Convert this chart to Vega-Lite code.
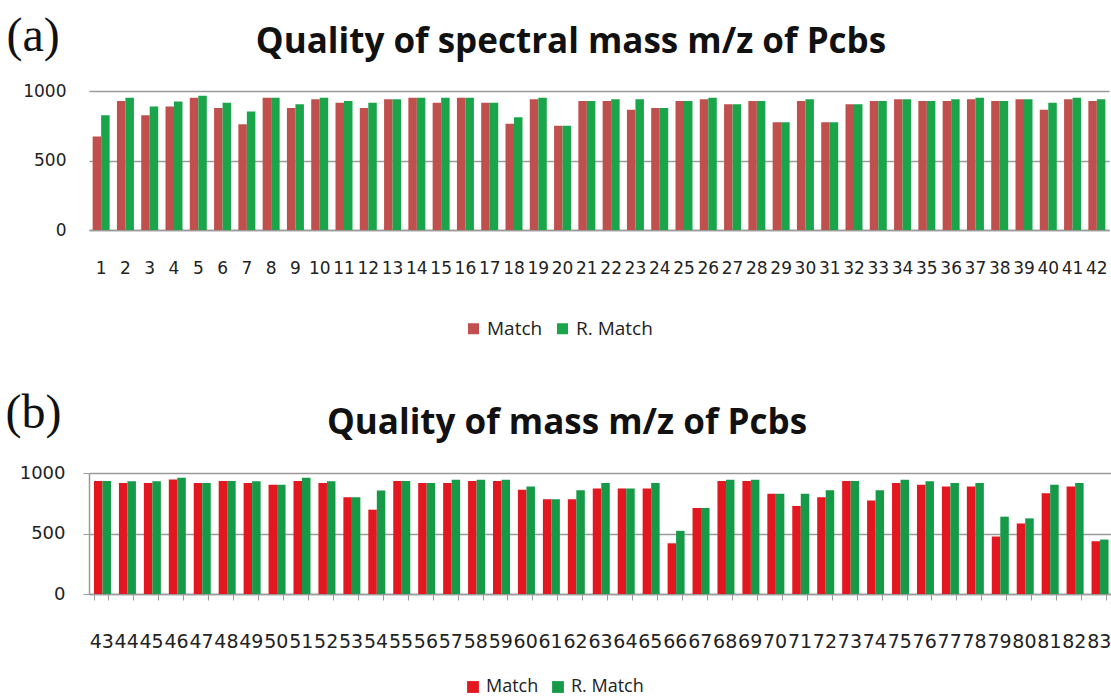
{
  "$schema": "https://vega.github.io/schema/vega-lite/v6.json",
  "padding": {"left": 5, "top": 12, "right": 0, "bottom": 0},
  "background": "white",
  "spacing": 50,
  "datasets": {
    "a": [
      {"n": 1, "Match": 673, "RM": 825},
      {"n": 2, "Match": 928, "RM": 952},
      {"n": 3, "Match": 825, "RM": 889},
      {"n": 4, "Match": 889, "RM": 925},
      {"n": 5, "Match": 952, "RM": 966},
      {"n": 6, "Match": 877, "RM": 916},
      {"n": 7, "Match": 760, "RM": 853},
      {"n": 8, "Match": 952, "RM": 952},
      {"n": 9, "Match": 877, "RM": 904},
      {"n": 10, "Match": 940, "RM": 952},
      {"n": 11, "Match": 916, "RM": 928},
      {"n": 12, "Match": 877, "RM": 916},
      {"n": 13, "Match": 940, "RM": 940},
      {"n": 14, "Match": 952, "RM": 952},
      {"n": 15, "Match": 916, "RM": 952},
      {"n": 16, "Match": 952, "RM": 952},
      {"n": 17, "Match": 916, "RM": 916},
      {"n": 18, "Match": 764, "RM": 812},
      {"n": 19, "Match": 940, "RM": 952},
      {"n": 20, "Match": 750, "RM": 750},
      {"n": 21, "Match": 928, "RM": 928},
      {"n": 22, "Match": 928, "RM": 940},
      {"n": 23, "Match": 865, "RM": 940},
      {"n": 24, "Match": 877, "RM": 877},
      {"n": 25, "Match": 928, "RM": 928},
      {"n": 26, "Match": 940, "RM": 952},
      {"n": 27, "Match": 904, "RM": 904},
      {"n": 28, "Match": 928, "RM": 928},
      {"n": 29, "Match": 776, "RM": 776},
      {"n": 30, "Match": 928, "RM": 940},
      {"n": 31, "Match": 776, "RM": 776},
      {"n": 32, "Match": 904, "RM": 904},
      {"n": 33, "Match": 928, "RM": 928},
      {"n": 34, "Match": 940, "RM": 940},
      {"n": 35, "Match": 928, "RM": 928},
      {"n": 36, "Match": 928, "RM": 940},
      {"n": 37, "Match": 940, "RM": 952},
      {"n": 38, "Match": 928, "RM": 928},
      {"n": 39, "Match": 940, "RM": 940},
      {"n": 40, "Match": 865, "RM": 916},
      {"n": 41, "Match": 940, "RM": 952},
      {"n": 42, "Match": 928, "RM": 940}
    ],
    "b": [
      {"n": 43, "Match": 933, "RM": 933},
      {"n": 44, "Match": 917, "RM": 931},
      {"n": 45, "Match": 917, "RM": 931},
      {"n": 46, "Match": 947, "RM": 961},
      {"n": 47, "Match": 917, "RM": 917},
      {"n": 48, "Match": 933, "RM": 933},
      {"n": 49, "Match": 917, "RM": 931},
      {"n": 50, "Match": 903, "RM": 903},
      {"n": 51, "Match": 933, "RM": 961},
      {"n": 52, "Match": 917, "RM": 931},
      {"n": 53, "Match": 800, "RM": 800},
      {"n": 54, "Match": 697, "RM": 856},
      {"n": 55, "Match": 933, "RM": 933},
      {"n": 56, "Match": 917, "RM": 917},
      {"n": 57, "Match": 917, "RM": 944},
      {"n": 58, "Match": 933, "RM": 944},
      {"n": 59, "Match": 933, "RM": 944},
      {"n": 60, "Match": 861, "RM": 889},
      {"n": 61, "Match": 783, "RM": 783},
      {"n": 62, "Match": 783, "RM": 858},
      {"n": 63, "Match": 872, "RM": 917},
      {"n": 64, "Match": 872, "RM": 872},
      {"n": 65, "Match": 872, "RM": 917},
      {"n": 66, "Match": 419, "RM": 522},
      {"n": 67, "Match": 711, "RM": 711},
      {"n": 68, "Match": 933, "RM": 944},
      {"n": 69, "Match": 933, "RM": 944},
      {"n": 70, "Match": 828, "RM": 828},
      {"n": 71, "Match": 728, "RM": 828},
      {"n": 72, "Match": 800, "RM": 858},
      {"n": 73, "Match": 933, "RM": 933},
      {"n": 74, "Match": 772, "RM": 858},
      {"n": 75, "Match": 917, "RM": 944},
      {"n": 76, "Match": 903, "RM": 931},
      {"n": 77, "Match": 889, "RM": 917},
      {"n": 78, "Match": 889, "RM": 917},
      {"n": 79, "Match": 475, "RM": 639},
      {"n": 80, "Match": 583, "RM": 625},
      {"n": 81, "Match": 833, "RM": 903},
      {"n": 82, "Match": 889, "RM": 917},
      {"n": 83, "Match": 436, "RM": 450}
    ]
  },
  "config": {
    "view": {"stroke": null},
    "title": {"font": "Open Sans", "fontWeight": "bold", "fontSize": 35, "color": "#111", "anchor": "middle"},
    "axis": {"gridColor": "#9a9a9a", "gridWidth": 1.5, "domainColor": "#9a9a9a", "domainWidth": 1.5, "tickColor": "#9a9a9a", "labelColor": "#222", "labelFont": "DejaVu Sans"},
    "legend": {"orient": "none", "direction": "horizontal", "symbolType": "square", "labelFont": "Open Sans", "labelColor": "#222", "labelOffset": 4, "columnPadding": 10, "symbolStrokeWidth": 0}
  },
  "resolve": {"scale": {"color": "independent"}},
  "vconcat": [
    {
      "data": {"name": "a"},
      "transform": [{"fold": ["Match", "RM"], "as": ["series", "value"]}],
      "title": {"text": "Quality of spectral mass m/z of Pcbs", "offset": -48, "dx": -28},
      "width": 1020,
      "height": 139,
      "mark": {"type": "bar"},
      "encoding": {
        "x": {"field": "n", "type": "ordinal", "scale": {"paddingInner": 0.3, "paddingOuter": 0.15},
          "axis": {"title": null, "labelAngle": 0, "labelOverlap": false, "ticks": false, "labelPadding": 30, "labelFontSize": 17}},
        "xOffset": {"field": "series", "type": "nominal", "sort": ["Match", "RM"]},
        "y": {"field": "value", "type": "quantitative", "scale": {"domain": [0, 1000]},
          "axis": {"values": [0, 500, 1000], "format": "d", "domain": false, "ticks": false, "labelPadding": 23, "labelFontSize": 17,
            "title": "(a)", "titleAngle": 0, "titleAlign": "left", "titleBaseline": "alphabetic", "titleX": -83, "titleY": -41,
            "titleFont": "Liberation Serif", "titleFontSize": 48, "titleFontWeight": "normal", "titleColor": "#111"}},
        "color": {"field": "series", "type": "nominal",
          "scale": {"domain": ["Match", "RM"], "range": ["#c0504d", "#1ba54b"]},
          "legend": {"title": null, "labelExpr": "datum.value == 'RM' ? 'R. Match' : 'Match'", "labelFontSize": 19, "symbolSize": 121, "legendX": 375, "legendY": 228}}
      }
    },
    {
      "data": {"name": "b"},
      "transform": [{"fold": ["Match", "RM"], "as": ["series", "value"]}],
      "title": {"text": "Quality of mass m/z of Pcbs", "offset": -52, "dx": -33},
      "width": 1022,
      "height": 121,
      "mark": {"type": "bar"},
      "encoding": {
        "x": {"field": "n", "type": "ordinal", "scale": {"paddingInner": 0.42, "paddingOuter": 0.2},
          "axis": {"title": null, "labelAngle": 0, "labelOverlap": false, "tickBand": "extent", "tickSize": 6, "labelPadding": 32, "labelFontSize": 19}},
        "xOffset": {"field": "series", "type": "nominal", "sort": ["Match", "RM"]},
        "y": {"field": "value", "type": "quantitative", "scale": {"domain": [0, 1000]},
          "axis": {"values": [0, 500, 1000], "format": "d", "ticks": true, "tickSize": 6, "labelPadding": 18, "labelFontSize": 18,
            "title": "(b)", "titleAngle": 0, "titleAlign": "left", "titleBaseline": "alphabetic", "titleX": -84, "titleY": -46,
            "titleFont": "Liberation Serif", "titleFontSize": 48, "titleFontWeight": "normal", "titleColor": "#111"}},
        "color": {"field": "series", "type": "nominal",
          "scale": {"domain": ["Match", "RM"], "range": ["#e3171f", "#169a48"]},
          "legend": {"title": null, "labelExpr": "datum.value == 'RM' ? 'R. Match' : 'Match'", "labelFontSize": 18, "symbolSize": 140, "legendX": 375, "legendY": 205}}
      }
    }
  ]
}
